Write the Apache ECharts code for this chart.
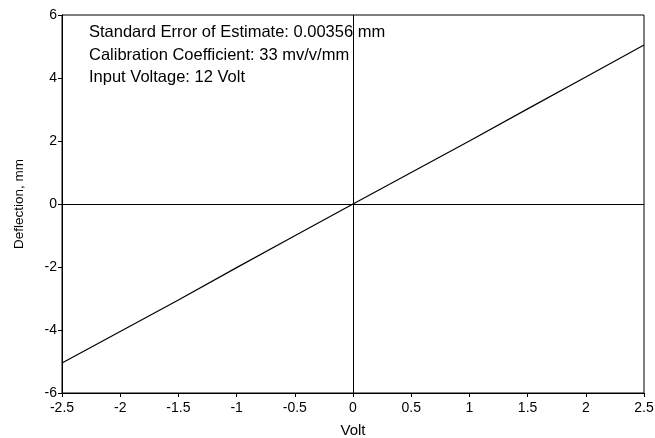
<!DOCTYPE html>
<html>
<head>
<meta charset="utf-8">
<script src="https://cdn.jsdelivr.net/npm/echarts@6/dist/echarts.min.js"></script>
<style>
  html, body { margin: 0; padding: 0; background: #fff; }
  #chart { width: 655px; height: 438px; }
</style>
</head>
<body>
<div id="chart"></div>
<script>
var volts = [-2.5, -2, -1.5, -1, -0.5, 0, 0.5, 1, 1.5, 2, 2.5];
var deflection = [-5.05, -4.05, -3.05, -2.02, -1.01, 0, 1.0, 2.0, 3.02, 4.03, 5.05];
var notes = [
  "Standard Error of Estimate: 0.00356 mm",
  "Calibration Coefficient: 33 mv/v/mm",
  "Input Voltage: 12 Volt"
];

var font = "'Liberation Sans', Arial, sans-serif";
var chart = echarts.init(document.getElementById("chart"));

var points = volts.map(function (v, i) { return [v, deflection[i]]; });

var option = {
  animation: false,
  backgroundColor: "#fff",
  grid: { left: 62, right: 11, top: 15, bottom: 45, outerBoundsMode: "none", containLabel: false },
  xAxis: {
    type: "value",
    min: -2.5, max: 2.5, interval: 0.5,
    name: "Volt", nameLocation: "middle", nameGap: 30,
    nameTextStyle: { color: "#000", fontSize: 15, fontFamily: font },
    axisLine: { show: true, onZero: false, lineStyle: { color: "#000", width: 1 } },
    axisTick: { show: true, inside: false, length: 4, lineStyle: { color: "#000" } },
    axisLabel: { color: "#000", fontSize: 14, fontFamily: font, margin: 8 },
    splitLine: { show: false }
  },
  yAxis: {
    type: "value",
    min: -6, max: 6, interval: 2,
    name: "Deflection, mm", nameLocation: "middle", nameGap: 36,
    nameTextStyle: { color: "#000", fontSize: 13.5, fontFamily: font },
    axisLine: { show: true, onZero: false, lineStyle: { color: "#000", width: 1 } },
    axisTick: { show: true, inside: false, length: 4, lineStyle: { color: "#000" } },
    axisLabel: { color: "#000", fontSize: 14, fontFamily: font, margin: 5 },
    splitLine: { show: false }
  },
  graphic: [{
    type: "rect",
    shape: { x: 62, y: 15, width: 582, height: 378 },
    style: { fill: "none", stroke: "#000", lineWidth: 1 },
    silent: true, z: 0
  }].concat(notes.map(function (t, i) {
    return {
      type: "text", left: 89, top: 24 + i * 22.5,
      style: { text: t, fill: "#000", fontSize: 16.5, fontFamily: font }
    };
  })),
  series: [{
    type: "line",
    data: points,
    showSymbol: false,
    lineStyle: { color: "#000", width: 1.2 },
    markLine: {
      silent: true,
      symbol: "none",
      label: { show: false },
      lineStyle: { color: "#000", width: 1, type: "solid" },
      data: [{ xAxis: 0 }, { yAxis: 0 }]
    }
  }]
};

chart.setOption(option);
</script>
</body>
</html>
